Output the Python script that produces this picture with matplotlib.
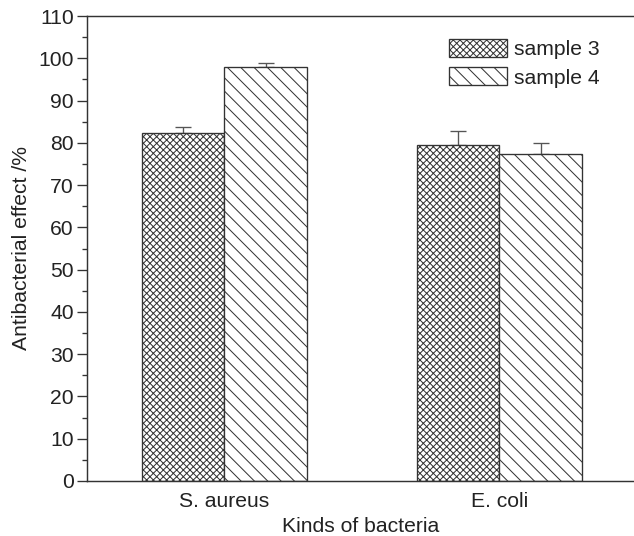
import matplotlib
matplotlib.use("Agg")
import matplotlib.pyplot as plt
import numpy as np

categories = ["S. aureus", "E. coli"]
series_names = ["sample 3", "sample 4"]
sample3 = [82.3, 79.6]
sample3_err = [1.5, 3.1]
sample4 = [98.0, 77.4]
sample4_err = [0.8, 2.5]
yticks = [0, 10, 20, 30, 40, 50, 60, 70, 80, 90, 100, 110]

DPI = 80
plt.rcParams['font.family'] = ['Liberation Sans', 'DejaVu Sans']
plt.rcParams['hatch.linewidth'] = 0.9
plt.rcParams['hatch.color'] = '#222222'
FS = 19.0
dark = '#333333'

fig = plt.figure(figsize=(634 / DPI, 536 / DPI), dpi=DPI)
ax = fig.add_axes([87 / 634, 55 / 536, 1 - 87 / 634, 465 / 536])

x = np.arange(len(categories))
w = 0.30
b1 = ax.bar(x - w / 2, sample3, w, facecolor='white', edgecolor=dark, linewidth=1.2,
            hatch='xxxx', label=series_names[0], zorder=2)
b2 = ax.bar(x + w / 2, sample4, w, facecolor='white', edgecolor=dark, linewidth=1.2,
            hatch='\\\\', label=series_names[1], zorder=2)
ax.errorbar(x - w / 2, sample3, yerr=[np.zeros(len(sample3)), sample3_err], fmt='none',
            ecolor='#555555', elinewidth=1.2, capsize=7, capthick=1.2, zorder=1)
ax.errorbar(x + w / 2, sample4, yerr=[np.zeros(len(sample4)), sample4_err], fmt='none',
            ecolor='#555555', elinewidth=1.2, capsize=7, capthick=1.2, zorder=1)

ax.set_xlim(-0.5, 1.49)
ax.set_ylim(0, 110)
ax.set_yticks(yticks)
ax.set_yticks(np.arange(5, 110, 10), minor=True)
ax.set_xticks(x)
ax.set_xticklabels(categories)
ax.tick_params(axis='y', which='major', direction='out', length=9, width=1.2,
               color=dark, labelsize=FS, labelcolor='#222222', pad=3)
ax.tick_params(axis='y', which='minor', direction='out', length=4.5, width=1.2, color=dark)
ax.tick_params(axis='x', which='major', length=0, labelsize=FS, labelcolor='#222222', pad=10)

for s in ['left', 'bottom', 'top']:
    ax.spines[s].set_linewidth(1.3)
    ax.spines[s].set_color(dark)
ax.spines['right'].set_visible(False)

ax.set_xlabel("Kinds of bacteria", fontsize=FS, color='#222222', labelpad=5)
ax.set_ylabel("Antibacterial effect /%", fontsize=FS, color='#222222', labelpad=6)

leg = ax.legend(loc='upper left', bbox_to_anchor=(449 / 634, 1 - 39 / 536),
                bbox_transform=fig.transFigure, frameon=False, fontsize=FS,
                handlelength=2.75, handleheight=0.9, handletextpad=0.35,
                labelspacing=0.4, borderpad=0, borderaxespad=0)
for t in leg.get_texts():
    t.set_color('#222222')

fig.savefig("out.png", dpi=DPI)
